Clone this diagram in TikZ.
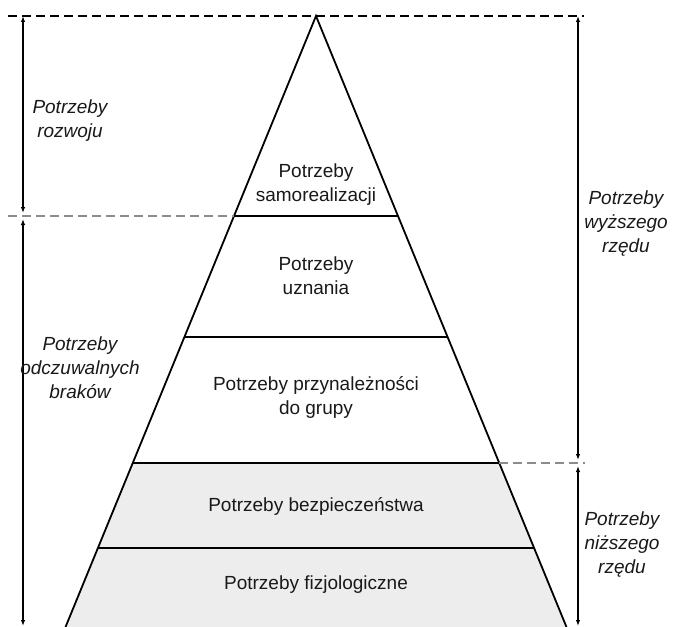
\documentclass[tikz,border=0pt]{standalone}
\usepackage{fontspec}
\setmainfont{Liberation Sans}
\usetikzlibrary{arrows.meta}
\definecolor{lowfill}{HTML}{EDEDED}
\definecolor{dashgray}{HTML}{8C8C8C}
\begin{document}
\begin{tikzpicture}[x=1pt,y=-1pt,
  edge/.style={line width=1.8pt,black},
  level/.style={line width=1.4pt,black},
  topdash/.style={line width=1.2pt,black,dash pattern=on 9pt off 5pt},
  graydash/.style={line width=1.6pt,dashgray,dash pattern=on 9pt off 5pt},
  span/.style={line width=1.6pt,black,{Latex[length=6pt,width=4.5pt]}-{Latex[length=6pt,width=4.5pt]}},
  intext/.style={align=center,font=\fontsize{19}{24}\selectfont,text=black!90,inner sep=0pt},
  sidetext/.style={align=center,font=\fontsize{19}{24}\selectfont\itshape,text=black!90,inner sep=0pt}]
\useasboundingbox (0,0) rectangle (674,626);
\begin{scope}
\clip (0,0) rectangle (674,626);
% lower (filled) part
\fill[lowfill] (132.7,463) -- (499.3,463) -- (571.8,640) -- (60.2,640) -- cycle;
% pyramid outline
\coordinate (apex) at (316,16);
\coordinate (bl) at (60.2,640);
\coordinate (br) at (571.8,640);
\draw[edge] (bl) -- (apex) -- (br);
% level lines
\coordinate (l1) at (234,216); \coordinate (r1) at (398,216);
\coordinate (l2) at (184.4,337); \coordinate (r2) at (447.6,337);
\coordinate (l3) at (132.7,463); \coordinate (r3) at (499.3,463);
\coordinate (l4) at (97.9,548); \coordinate (r4) at (534.1,548);
\draw[level] (l1) -- (r1);
\draw[level] (l2) -- (r2);
\draw[level] (l3) -- (r3);
\draw[level] (l4) -- (r4);
% dashed guide lines
\coordinate (tdl) at (8,16); \coordinate (tdr) at (584,16);
\draw[topdash] (tdl) -- (tdr);
\coordinate (gdl) at (8,216);
\draw[graydash] (gdl) -- (l1);
\coordinate (gdr) at (585,463);
\draw[graydash] (r3) -- (gdr);
% span arrows
\coordinate (la1) at (23,16); \coordinate (la2) at (23,213);
\coordinate (la3) at (23,219); \coordinate (la4) at (23,626);
\draw[span] (la1) -- (la2);
\draw[span] (la3) -- (la4);
\coordinate (ra1) at (578,16); \coordinate (ra2) at (578,460);
\coordinate (ra3) at (578,466); \coordinate (ra4) at (578,626);
\draw[span] (ra1) -- (ra2);
\draw[span] (ra3) -- (ra4);
\end{scope}
% texts inside the pyramid
\node[intext] (t1) at (316,185) {Potrzeby\\samorealizacji};
\node[intext] (t2) at (316,276) {Potrzeby\\uznania};
\node[intext] (t3) at (316,397) {Potrzeby przynależności\\do grupy};
\node[intext] (t4) at (316,506) {Potrzeby bezpieczeństwa};
\node[intext] (t5) at (316,585) {Potrzeby fizjologiczne};
% side texts
\node[sidetext] (s1) at (70,121) {Potrzeby\\rozwoju};
\node[sidetext] (s2) at (80,368) {Potrzeby\\odczuwalnych\\braków};
\node[sidetext] (s3) at (626,224) {Potrzeby\\wyższego\\rzędu};
\node[sidetext] (s4) at (622,544) {Potrzeby\\niższego\\rzędu};
\end{tikzpicture}
\end{document}
